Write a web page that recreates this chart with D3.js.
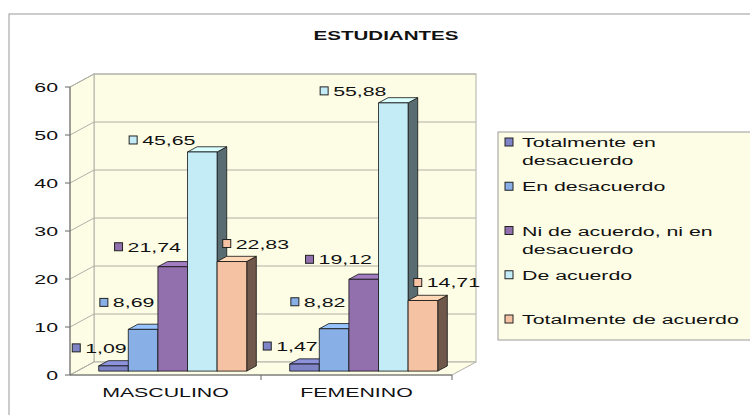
<!DOCTYPE html>
<html>
<head>
<meta charset="utf-8">
<script src="https://cdn.jsdelivr.net/npm/d3@7"></script>
<style>
  body { margin: 0; background: #fff; }
  text { font-family: "Liberation Sans", Arial, sans-serif; fill: #111; }
</style>
</head>
<body>
<div id="chart"></div>
<script>
// data
const categories = ["MASCULINO", "FEMENINO"];
const seriesNames = ["Totalmente en desacuerdo", "En desacuerdo", "Ni de acuerdo, ni en desacuerdo", "De acuerdo", "Totalmente de acuerdo"];
const masculino = [1.09, 8.69, 21.74, 45.65, 22.83];
const femenino = [1.47, 8.82, 19.12, 55.88, 14.71];
const yTicks = [0, 10, 20, 30, 40, 50, 60];
const title = "ESTUDIANTES";

const values = [masculino, femenino];
const colors = ['#7e84c6', '#88b0e6', '#9270ad', '#c4ecf7', '#f6c2a4'];
// label nudges per series (Excel places them a bit oddly in 3D)
const labelDx = [-14, -16, -25, -40, 24];
const labelDy = [-18, -27, -20, -12, -18];
const legendLines = [["Totalmente en", "desacuerdo"], ["En desacuerdo"], ["Ni de acuerdo, ni en", "desacuerdo"], ["De acuerdo"], ["Totalmente de acuerdo"]];

const W = 750, H = 415;
const SX = 1.58;   // the picture is stretched wide
const FS = 13.5;

const svg = d3.select("#chart").append("svg")
    .attr("width", W)
    .attr("height", H);

// outer frame
svg.append("rect")
    .attr("x", 9).attr("y", 14)
    .attr("width", 760).attr("height", 420)
    .attr("fill", "#fff")
    .attr("stroke", "#9a9a9a").attr("stroke-width", 1);

function stretchText(g, x, y, str, anchor, size, weight) {
    return g.append("text")
        .attr("transform", `translate(${x},${y}) scale(${SX},1)`)
        .attr("text-anchor", anchor)
        .attr("font-size", size + "px")
        .attr("font-weight", weight || "normal")
        .text(str);
}

// title
stretchText(svg, 386, 40, title, "middle", 13, "bold");

// == 3D PLOT == //
const front = {left: 70, right: 452, bottom: 375, top: 87};
const depth = {dx: 24, dy: -13};

const y = d3.scaleLinear().domain([0, 60]).range([front.bottom, front.top]);
const x = d3.scaleBand().domain(categories).range([front.left, front.right]);

const wallFill = '#fdfde6';
const gridColor = '#b0b0a8';
const plot = svg.append("g");

// back wall
plot.append("rect")
    .attr("x", front.left + depth.dx)
    .attr("y", y(60) + depth.dy)
    .attr("width", front.right - front.left)
    .attr("height", y(0) - y(60))
    .attr("fill", wallFill)
    .attr("stroke", gridColor);

// side wall
plot.append("path")
    .attr("d", `M${front.left},${y(0)} L${front.left},${y(60)} L${front.left + depth.dx},${y(60) + depth.dy} L${front.left + depth.dx},${y(0) + depth.dy} Z`)
    .attr("fill", wallFill)
    .attr("stroke", gridColor);

// floor
plot.append("path")
    .attr("d", `M${front.left},${y(0)} L${front.right},${y(0)} L${front.right + depth.dx},${y(0) + depth.dy} L${front.left + depth.dx},${y(0) + depth.dy} Z`)
    .attr("fill", wallFill)
    .attr("stroke", gridColor);

// gridlines
yTicks.forEach(t => {
    if (t > 0) {
        plot.append("line")
            .attr("x1", front.left + depth.dx).attr("x2", front.right + depth.dx)
            .attr("y1", y(t) + depth.dy).attr("y2", y(t) + depth.dy)
            .attr("stroke", gridColor);
    }
    plot.append("line")
        .attr("x1", front.left).attr("x2", front.left + depth.dx)
        .attr("y1", y(t)).attr("y2", y(t) + depth.dy)
        .attr("stroke", gridColor);
    // tick mark + label
    plot.append("line")
        .attr("x1", front.left - 5).attr("x2", front.left)
        .attr("y1", y(t)).attr("y2", y(t))
        .attr("stroke", "#666");
    stretchText(plot, front.left - 12, y(t) + 5, t, "end", FS);
});

// axes
plot.append("line")
    .attr("x1", front.left).attr("x2", front.left)
    .attr("y1", y(0)).attr("y2", y(60))
    .attr("stroke", "#666");
plot.append("line")
    .attr("x1", front.left).attr("x2", front.right)
    .attr("y1", y(0)).attr("y2", y(0))
    .attr("stroke", "#666");
categories.forEach((c, i) => {
    plot.append("line")
        .attr("x1", x(c) + x.bandwidth()).attr("x2", x(c) + x.bandwidth())
        .attr("y1", y(0)).attr("y2", y(0) + 5)
        .attr("stroke", "#666");
    stretchText(plot, x(c) + x.bandwidth() / 2, y(0) + 22, c, "middle", FS);
});

// bars
const d0 = 0.3, d1 = 0.7;
const inner = d3.scaleBand().domain(d3.range(seriesNames.length)).range([0, x.bandwidth() * 0.775]);
const bw = inner.bandwidth();

const barsG = plot.append("g");
const labelsG = plot.append("g");

categories.forEach((c, ci) => {
    const groupLeft = x(c) + (x.bandwidth() - x.bandwidth() * 0.775) / 2;
    values[ci].forEach((v, si) => {
        const x0 = groupLeft + inner(si) + depth.dx * d0;
        const yb = y(0) + depth.dy * d0;
        const yt = y(v) + depth.dy * d0;
        const ox = depth.dx * (d1 - d0), oy = depth.dy * (d1 - d0);
        const col = d3.color(colors[si]);
        const g = barsG.append("g").attr("stroke", "#111").attr("stroke-width", 0.8).attr("stroke-linejoin", "round");
        // side
        g.append("path")
            .attr("d", `M${x0 + bw},${yb} L${x0 + bw},${yt} L${x0 + bw + ox},${yt + oy} L${x0 + bw + ox},${yb + oy} Z`)
            .attr("fill", col.darker(2.2));
        // top
        g.append("path")
            .attr("d", `M${x0},${yt} L${x0 + bw},${yt} L${x0 + bw + ox},${yt + oy} L${x0 + ox},${yt + oy} Z`)
            .attr("fill", col.brighter(0.3));
        // front
        g.append("rect")
            .attr("x", x0).attr("y", yt)
            .attr("width", bw).attr("height", yb - yt)
            .attr("fill", col);

        // data label: key square + value
        const lab = labelsG.append("g");
        const txt = stretchText(lab, 13, 5, String(v).replace(".", ","), "start", FS);
        const tw = txt.node().getComputedTextLength() * SX;
        lab.append("rect")
            .attr("x", 0).attr("y", -4)
            .attr("width", 8).attr("height", 8)
            .attr("fill", col)
            .attr("stroke", "#222").attr("stroke-width", 1);
        const total = 13 + tw;
        const cx = x0 + bw / 2 + labelDx[si];
        const cy = yt + labelDy[si];
        lab.attr("transform", `translate(${cx - total / 2},${cy})`);
    });
});

// == LEGEND == //
const legend = svg.append("g");
legend.append("rect")
    .attr("x", 498).attr("y", 132)
    .attr("width", 270).attr("height", 208)
    .attr("fill", wallFill)
    .attr("stroke", "#9a9a9a");

const legendY = d3.scalePoint().domain(d3.range(seriesNames.length)).range([142, 319]);
seriesNames.forEach((s, i) => {
    const ly = legendY(i);
    legend.append("rect")
        .attr("x", 505).attr("y", ly - 4)
        .attr("width", 8).attr("height", 8)
        .attr("fill", colors[i])
        .attr("stroke", "#222");
    legendLines[i].forEach((line, li) => {
        stretchText(legend, 522, ly + 5 + li * 18, line, "start", FS);
    });
});
</script>
</body>
</html>
